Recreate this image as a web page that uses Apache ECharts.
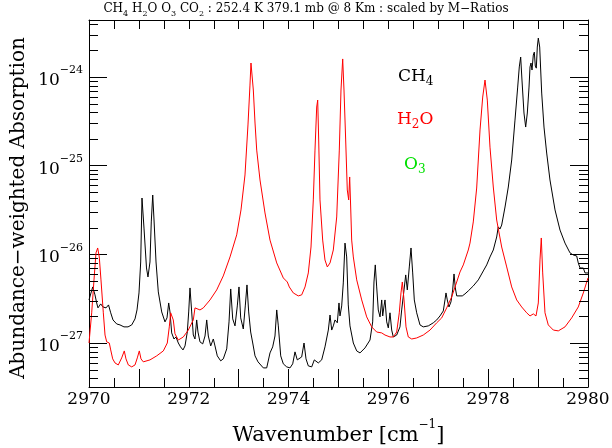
<!DOCTYPE html>
<html>
<head>
<meta charset="utf-8">
<script src="https://cdn.jsdelivr.net/npm/echarts@6/dist/echarts.min.js"></script>
<style>
  html, body { margin: 0; padding: 0; background: #fff; }
  #main { width: 612px; height: 448px; }
</style>
</head>
<body>
<div id="main"></div>
<script>
// wavenumbers [cm-1] and abundance-weighted absorption
var wnCH4 = [2970.000, 2970.074, 2970.120, 2970.154, 2970.180, 2970.234, 2970.281, 2970.341, 2970.391, 2970.435,
  2970.481, 2970.555, 2970.621, 2970.701, 2970.782, 2970.856, 2970.922, 2970.962, 2971.002, 2971.036,
  2971.062, 2971.102, 2971.152, 2971.182, 2971.222, 2971.248, 2971.277, 2971.303, 2971.343, 2971.389,
  2971.457, 2971.523, 2971.563, 2971.597, 2971.623, 2971.657, 2971.703, 2971.743, 2971.790, 2971.834,
  2971.884, 2971.924, 2971.970, 2971.998, 2972.024, 2972.058, 2972.090, 2972.124, 2972.158, 2972.184,
  2972.224, 2972.279, 2972.325, 2972.359, 2972.391, 2972.439, 2972.491, 2972.525, 2972.571, 2972.639,
  2972.691, 2972.760, 2972.806, 2972.840, 2972.880, 2972.926, 2972.972, 2973.006, 2973.040, 2973.092,
  2973.132, 2973.166, 2973.200, 2973.240, 2973.281, 2973.327, 2973.387, 2973.427, 2973.493, 2973.561,
  2973.627, 2973.681, 2973.727, 2973.762, 2973.794, 2973.842, 2973.894, 2973.962, 2974.028, 2974.082,
  2974.128, 2974.174, 2974.214, 2974.262, 2974.309, 2974.349, 2974.395, 2974.463, 2974.515, 2974.549,
  2974.595, 2974.663, 2974.729, 2974.796, 2974.830, 2974.864, 2974.896, 2974.930, 2974.976, 2975.010,
  2975.030, 2975.064, 2975.096, 2975.130, 2975.164, 2975.196, 2975.230, 2975.297, 2975.365, 2975.431,
  2975.531, 2975.631, 2975.685, 2975.711, 2975.737, 2975.765, 2975.797, 2975.832, 2975.866, 2975.886,
  2975.912, 2975.932, 2975.966, 2975.998, 2976.032, 2976.066, 2976.098, 2976.166, 2976.232, 2976.266,
  2976.313, 2976.347, 2976.379, 2976.419, 2976.453, 2976.487, 2976.519, 2976.567, 2976.633, 2976.699,
  2976.800, 2976.900, 2976.968, 2977.034, 2977.100, 2977.134, 2977.154, 2977.180, 2977.214, 2977.254,
  2977.288, 2977.315, 2977.341, 2977.369, 2977.401, 2977.435, 2977.481, 2977.535, 2977.601, 2977.701,
  2977.802, 2977.902, 2977.970, 2978.036, 2978.102, 2978.170, 2978.202, 2978.236, 2978.270, 2978.337,
  2978.403, 2978.471, 2978.537, 2978.591, 2978.623, 2978.651, 2978.677, 2978.717, 2978.751, 2978.784,
  2978.818, 2978.838, 2978.858, 2978.878, 2978.904, 2978.924, 2978.944, 2978.964, 2978.984, 2979.004,
  2979.032, 2979.072, 2979.118, 2979.172, 2979.238, 2979.339, 2979.439, 2979.539, 2979.639, 2979.705,
  2979.773, 2979.805, 2979.840, 2979.874, 2979.906, 2979.940, 2980.000];
var absCH4 = [3.06e-27, 4.29e-27, 3.49e-27, 2.83e-27, 2.49e-27, 2.76e-27, 2.55e-27, 2.49e-27, 2.69e-27, 2.19e-27,
  1.82e-27, 1.64e-27, 1.60e-27, 1.52e-27, 1.52e-27, 1.60e-27, 1.87e-27, 2.36e-27, 3.67e-27, 8.20e-27,
  4.32e-26, 1.98e-26, 7.02e-27, 5.56e-27, 8.20e-27, 2.32e-26, 4.67e-26, 2.44e-26, 8.20e-27, 3.77e-27,
  2.24e-27, 1.73e-27, 1.92e-27, 2.83e-27, 2.24e-27, 1.30e-27, 1.11e-27, 1.17e-27, 1.00e-27, 9.04e-28,
  8.35e-28, 9.27e-28, 1.33e-27, 2.24e-27, 4.18e-27, 2.24e-27, 1.23e-27, 1.11e-27, 1.82e-27, 1.33e-27,
  1.03e-27, 9.77e-28, 1.20e-27, 1.82e-27, 1.20e-27, 9.27e-28, 1.11e-27, 9.27e-28, 7.16e-28, 6.29e-28,
  6.62e-28, 8.58e-28, 1.73e-27, 4.07e-27, 1.87e-27, 1.56e-27, 2.62e-27, 4.29e-27, 1.92e-27, 1.44e-27,
  2.62e-27, 4.52e-27, 2.24e-27, 1.33e-27, 1.00e-27, 7.16e-28, 6.13e-28, 6.45e-28, 5.24e-28, 5.24e-28,
  7.73e-28, 9.04e-28, 1.20e-27, 2.36e-27, 1.56e-27, 7.16e-28, 5.82e-28, 5.38e-28, 5.24e-28, 5.82e-28,
  7.94e-28, 6.45e-28, 6.13e-28, 6.97e-28, 1.00e-27, 6.62e-28, 5.52e-28, 5.38e-28, 6.45e-28, 6.79e-28,
  5.96e-28, 6.45e-28, 9.04e-28, 1.40e-27, 2.07e-27, 1.40e-27, 1.56e-27, 1.82e-27, 1.69e-27, 2.83e-27,
  2.02e-27, 2.62e-27, 4.76e-27, 1.34e-26, 9.35e-27, 2.69e-27, 1.56e-27, 1.00e-27, 8.14e-28, 7.73e-28,
  8.80e-28, 1.08e-27, 1.73e-27, 4.88e-27, 7.60e-27, 4.29e-27, 2.36e-27, 1.97e-27, 3.06e-27, 2.02e-27,
  2.62e-27, 3.06e-27, 1.73e-27, 1.48e-27, 2.19e-27, 1.40e-27, 1.17e-27, 1.23e-27, 1.52e-27, 2.36e-27,
  3.97e-27, 5.86e-27, 3.97e-27, 7.21e-27, 1.18e-26, 6.17e-27, 3.06e-27, 2.19e-27, 1.60e-27, 1.52e-27,
  1.56e-27, 1.69e-27, 1.82e-27, 2.02e-27, 2.30e-27, 3.06e-27, 3.67e-27, 3.06e-27, 2.55e-27, 2.91e-27,
  3.97e-27, 6.01e-27, 4.18e-27, 3.40e-27, 3.58e-27, 3.40e-27, 3.40e-27, 3.58e-27, 3.87e-27, 4.40e-27,
  5.15e-27, 6.50e-27, 7.60e-27, 9.35e-27, 1.12e-26, 1.57e-26, 2.04e-26, 1.93e-26, 2.14e-26, 3.42e-26,
  5.75e-26, 1.16e-25, 3.27e-25, 7.71e-25, 1.30e-24, 1.68e-24, 9.25e-25, 3.93e-25, 2.73e-25, 3.93e-25,
  7.71e-25, 1.30e-24, 1.44e-24, 1.20e-24, 1.77e-24, 1.91e-24, 1.33e-24, 1.26e-24, 2.18e-24, 2.75e-24,
  2.18e-24, 6.60e-25, 2.73e-25, 1.39e-25, 6.90e-26, 3.17e-26, 1.88e-26, 1.34e-26, 1.04e-26, 9.84e-27,
  9.59e-27, 8.00e-27, 7.02e-27, 7.21e-27, 7.02e-27, 6.17e-27, 6.17e-27];

var wnH2O = [2970.000, 2970.054, 2970.100, 2970.140, 2970.174, 2970.206, 2970.240, 2970.287, 2970.321, 2970.355,
  2970.407, 2970.435, 2970.475, 2970.521, 2970.587, 2970.655, 2970.707, 2970.741, 2970.788, 2970.856,
  2970.922, 2970.968, 2971.008, 2971.042, 2971.088, 2971.222, 2971.357, 2971.489, 2971.569, 2971.609,
  2971.637, 2971.663, 2971.689, 2971.723, 2971.790, 2971.890, 2971.990, 2972.090, 2972.124, 2972.158,
  2972.224, 2972.291, 2972.425, 2972.559, 2972.691, 2972.826, 2972.960, 2973.046, 2973.126, 2973.186,
  2973.226, 2973.246, 2973.293, 2973.327, 2973.361, 2973.427, 2973.527, 2973.627, 2973.762, 2973.894,
  2973.974, 2974.014, 2974.094, 2974.194, 2974.262, 2974.329, 2974.395, 2974.449, 2974.495, 2974.529,
  2974.563, 2974.583, 2974.603, 2974.629, 2974.683, 2974.729, 2974.776, 2974.830, 2974.896, 2974.964,
  2975.016, 2975.050, 2975.084, 2975.110, 2975.144, 2975.176, 2975.204, 2975.224, 2975.244, 2975.264,
  2975.297, 2975.365, 2975.465, 2975.565, 2975.665, 2975.765, 2975.866, 2975.932, 2976.032, 2976.098,
  2976.166, 2976.218, 2976.252, 2976.279, 2976.313, 2976.353, 2976.399, 2976.467, 2976.567, 2976.699,
  2976.834, 2976.968, 2977.068, 2977.168, 2977.268, 2977.369, 2977.435, 2977.501, 2977.601, 2977.635,
  2977.701, 2977.769, 2977.836, 2977.890, 2977.936, 2977.982, 2978.036, 2978.102, 2978.170, 2978.270,
  2978.371, 2978.471, 2978.571, 2978.671, 2978.771, 2978.838, 2978.904, 2978.958, 2979.004, 2979.038,
  2979.064, 2979.092, 2979.138, 2979.204, 2979.305, 2979.405, 2979.539, 2979.673, 2979.805, 2979.906,
  2980.000];
var absH2O = [1.00e-27, 2.19e-27, 5.15e-27, 1.04e-26, 1.18e-26, 9.35e-27, 5.15e-27, 2.19e-27, 1.23e-27, 1.03e-27,
  1.00e-27, 8.35e-28, 6.62e-28, 5.96e-28, 5.66e-28, 6.79e-28, 8.14e-28, 6.62e-28, 5.66e-28, 5.38e-28,
  5.66e-28, 6.79e-28, 8.14e-28, 6.62e-28, 6.13e-28, 6.45e-28, 7.16e-28, 8.14e-28, 1.00e-27, 1.52e-27,
  2.19e-27, 2.30e-27, 1.82e-27, 1.27e-27, 1.08e-27, 1.17e-27, 1.40e-27, 1.82e-27, 2.49e-27, 2.62e-27,
  2.36e-27, 2.49e-27, 3.06e-27, 3.97e-27, 5.71e-27, 9.35e-27, 1.66e-26, 3.17e-26, 7.86e-26, 2.88e-25,
  8.12e-25, 1.44e-24, 7.14e-25, 3.03e-25, 1.50e-25, 6.90e-26, 2.93e-26, 1.45e-26, 8.00e-27, 5.42e-27,
  4.88e-27, 4.29e-27, 3.67e-27, 3.40e-27, 3.49e-27, 4.29e-27, 6.17e-27, 1.21e-26, 4.11e-26, 1.50e-25,
  4.59e-25, 5.50e-25, 1.95e-25, 4.11e-26, 1.45e-26, 8.64e-27, 7.21e-27, 8.00e-27, 1.12e-26, 2.64e-26,
  1.50e-25, 7.14e-25, 1.60e-24, 7.14e-25, 1.95e-25, 5.32e-26, 4.11e-26, 7.46e-26, 3.42e-26, 1.45e-26,
  9.35e-27, 5.15e-27, 3.06e-27, 1.97e-27, 1.52e-27, 1.33e-27, 1.30e-27, 1.23e-27, 1.17e-27, 1.17e-27,
  1.33e-27, 2.19e-27, 3.67e-27, 4.88e-27, 3.06e-27, 1.52e-27, 1.17e-27, 1.11e-27, 1.14e-27, 1.23e-27,
  1.40e-27, 1.69e-27, 1.92e-27, 2.49e-27, 3.31e-27, 4.88e-27, 6.33e-27, 7.60e-27, 1.12e-26, 1.34e-26,
  2.32e-26, 5.60e-26, 2.53e-25, 5.95e-25, 9.25e-25, 5.50e-25, 1.62e-25, 5.75e-26, 2.44e-26, 1.21e-26,
  7.21e-27, 4.29e-27, 3.06e-27, 2.55e-27, 2.19e-27, 2.02e-27, 2.13e-27, 2.02e-27, 2.83e-27, 8.64e-27,
  1.53e-26, 6.17e-27, 2.19e-27, 1.60e-27, 1.40e-27, 1.37e-27, 1.52e-27, 1.92e-27, 2.55e-27, 3.67e-27,
  5.42e-27];

var xMin = 2970, xMax = 2980;
var yMin = 3.19e-28, yMax = 4.40e-24;
var xLabelTicks = [2970, 2972, 2974, 2976, 2978, 2980];

var serif = 'DejaVu Serif';

function pairs(xs, ys) {
  var out = [];
  var n = Math.min(xs.length, ys.length);
  for (var i = 0; i < n; i++) out.push([xs[i], ys[i]]);
  return out;
}

// log minor ticks 2..9 x 10^n inside the range
var minorTicks = [];
for (var e = -28; e <= -24; e++) {
  for (var k = 2; k <= 9; k++) {
    var v = k * Math.pow(10, e);
    if (v > yMin && v < yMax) minorTicks.push([xMin, v]);
  }
}

var chart = echarts.init(document.getElementById('main'));

var frameLine = { show: true, onZero: false, lineStyle: { color: '#000', width: 1 } };

chart.setOption({
  animation: false,
  backgroundColor: '#fff',
  grid: { left: 89, right: 24, top: 20, bottom: 61, outerBoundsMode: 'none' },
  xAxis: [
    {
      type: 'value', min: xMin, max: xMax, interval: 1, position: 'bottom',
      axisLine: frameLine,
      axisTick: { show: true, inside: true, length: 18, lineStyle: { color: '#000', width: 1 } },
      minorTick: { show: true, splitNumber: 2, length: 9, lineStyle: { color: '#000', width: 1 } },
      splitLine: { show: false },
      axisLabel: {
        margin: 4, color: '#000', fontFamily: serif, fontSize: 17,
        formatter: function (val) {
          var r = Math.round(val);
          return xLabelTicks.indexOf(r) >= 0 && Math.abs(val - r) < 1e-6 ? String(r) : '';
        }
      },
      name: '{t|Wavenumber [cm}{u|\u22121}{t|]}',
      nameLocation: 'middle', nameGap: 32,
      nameTextStyle: {
        rich: {
          t: { fontFamily: serif, fontSize: 21, color: '#000', lineHeight: 27, verticalAlign: 'bottom' },
          u: { fontFamily: serif, fontSize: 12, color: '#000', lineHeight: 8, verticalAlign: 'top' }
        }
      }
    },
    {
      type: 'value', min: xMin, max: xMax, interval: 1, position: 'top',
      axisLine: frameLine,
      axisTick: { show: true, inside: true, length: 9, lineStyle: { color: '#000', width: 1 } },
      minorTick: { show: true, splitNumber: 2, length: 9, lineStyle: { color: '#000', width: 1 } },
      splitLine: { show: false },
      axisLabel: { show: false }
    }
  ],
  yAxis: [
    {
      type: 'log', logBase: 10, min: yMin, max: yMax, position: 'left',
      axisLine: frameLine,
      axisTick: { show: true, inside: true, length: 18, lineStyle: { color: '#000', width: 1 } },
      splitLine: { show: false },
      axisLabel: {
        margin: 6, color: '#000',
        formatter: function (val) {
          if (!(val > 0)) return '';
          var l = Math.log(val) / Math.LN10;
          var ex = Math.round(l);
          if (Math.abs(l - ex) > 0.01) return '';
          return '{b|10}{e|\u2212' + (-ex) + '}';
        },
        rich: {
          b: { fontFamily: serif, fontSize: 17, color: '#000', lineHeight: 24, verticalAlign: 'bottom' },
          e: { fontFamily: serif, fontSize: 11, color: '#000', lineHeight: 6, verticalAlign: 'top' }
        }
      }
    },
    {
      type: 'log', logBase: 10, min: yMin, max: yMax, position: 'right',
      axisLine: frameLine,
      axisTick: { show: true, inside: true, length: 18, lineStyle: { color: '#000', width: 1 } },
      splitLine: { show: false },
      axisLabel: { show: false }
    }
  ],
  graphic: [
    {
      type: 'text', left: 'center', top: 3,
      style: {
        text: '{n|CH}{s|4}{n| H}{s|2}{n|O O}{s|3}{n| CO}{s|2}{n| : 252.4 K 379.1 mb @ 8 Km : scaled by M\u2212Ratios}',
        rich: {
          n: { fontFamily: serif, fontSize: 12, fill: '#000', lineHeight: 15, verticalAlign: 'top' },
          s: { fontFamily: serif, fontSize: 8, fill: '#000', lineHeight: 8, verticalAlign: 'bottom' }
        }
      }
    },
    {
      type: 'text', x: 19, y: 208, rotation: Math.PI / 2,
      style: {
        text: 'Abundance\u2212weighted Absorption',
        fontFamily: serif, fontSize: 20, fill: '#000',
        align: 'center', verticalAlign: 'middle'
      }
    },
    {
      type: 'text', left: 398, top: 68,
      style: {
        text: '{n|CH}{s|4}',
        rich: {
          n: { fontFamily: serif, fontSize: 17, fill: '#000', lineHeight: 20, verticalAlign: 'top' },
          s: { fontFamily: serif, fontSize: 12, fill: '#000', lineHeight: 12, verticalAlign: 'bottom' }
        }
      }
    },
    {
      type: 'text', left: 397, top: 111,
      style: {
        text: '{n|H}{s|2}{n|O}',
        rich: {
          n: { fontFamily: serif, fontSize: 17, fill: '#ff0000', lineHeight: 20, verticalAlign: 'top' },
          s: { fontFamily: serif, fontSize: 12, fill: '#ff0000', lineHeight: 12, verticalAlign: 'bottom' }
        }
      }
    },
    {
      type: 'text', left: 404, top: 156,
      style: {
        text: '{n|O}{s|3}',
        rich: {
          n: { fontFamily: serif, fontSize: 17, fill: '#00e000', lineHeight: 20, verticalAlign: 'top' },
          s: { fontFamily: serif, fontSize: 12, fill: '#00e000', lineHeight: 12, verticalAlign: 'bottom' }
        }
      }
    }
  ],
  series: [
    {
      name: 'CH4', type: 'line', data: pairs(wnCH4, absCH4),
      showSymbol: false, symbol: 'none', smooth: false,
      lineStyle: { color: '#000', width: 1 }, itemStyle: { color: '#000' }, z: 3
    },
    {
      name: 'H2O', type: 'line', data: pairs(wnH2O, absH2O),
      showSymbol: false, symbol: 'none', smooth: false,
      lineStyle: { color: '#ff0000', width: 1 }, itemStyle: { color: '#ff0000' }, z: 4
    },
    {
      name: 'minor', type: 'custom', data: minorTicks, silent: true, clip: false, z: 5,
      renderItem: function (params, api) {
        var a = api.coord([xMin, api.value(1)]);
        var b = api.coord([xMax, api.value(1)]);
        var y = Math.round(a[1]) + 0.5;
        return {
          type: 'group',
          children: [
            { type: 'line', shape: { x1: a[0], y1: y, x2: a[0] + 9, y2: y }, style: { stroke: '#000', lineWidth: 1 } },
            { type: 'line', shape: { x1: b[0], y1: y, x2: b[0] - 9, y2: y }, style: { stroke: '#000', lineWidth: 1 } }
          ]
        };
      }
    }
  ]
});
</script>
</body>
</html>
